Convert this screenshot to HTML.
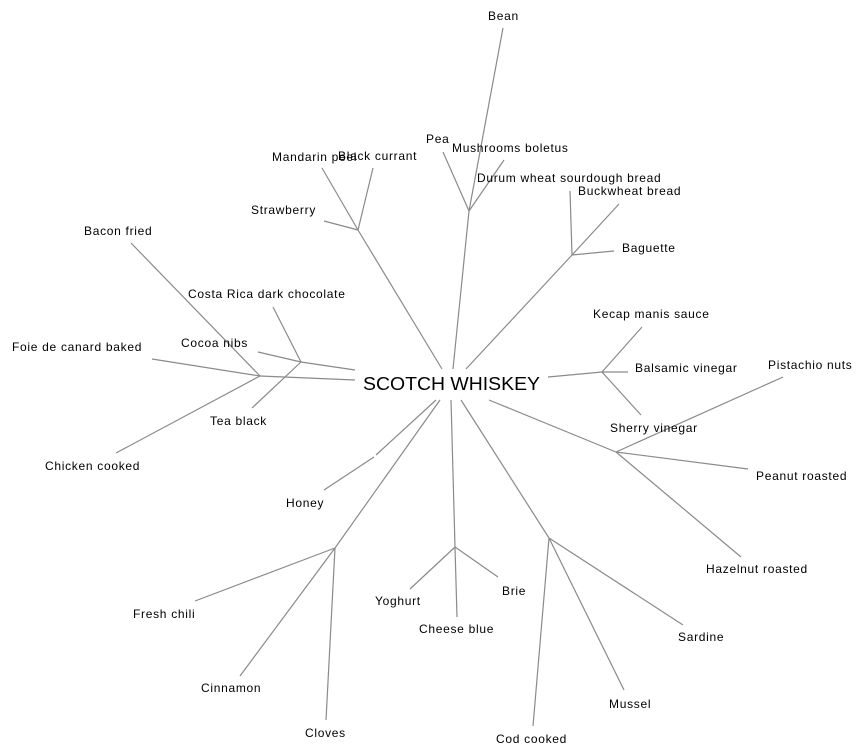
<!DOCTYPE html>
<html><head><meta charset="utf-8"><style>
html,body{margin:0;padding:0;background:#fff;}
svg{display:block;}
text{font-family:"Liberation Sans",Arial,sans-serif;font-size:12px;fill:#000;letter-spacing:0.7px;}
text.big{letter-spacing:0;}
line{stroke:#8a8a8a;stroke-width:1.2;}
</style></head><body>
<svg width="864" height="755" viewBox="0 0 864 755" xmlns="http://www.w3.org/2000/svg">
<g>
<line x1="442" y1="369" x2="358" y2="230"/>
<line x1="358" y1="230" x2="322" y2="168"/>
<line x1="358" y1="230" x2="373" y2="168"/>
<line x1="358" y1="230" x2="324" y2="221"/>
<line x1="453" y1="369" x2="469" y2="211"/>
<line x1="469" y1="211" x2="443" y2="152"/>
<line x1="469" y1="211" x2="504" y2="160"/>
<line x1="469" y1="211" x2="503" y2="28"/>
<line x1="466" y1="369" x2="572" y2="255"/>
<line x1="572" y1="255" x2="570" y2="191"/>
<line x1="572" y1="255" x2="619" y2="204"/>
<line x1="572" y1="255" x2="614" y2="251"/>
<line x1="548" y1="377" x2="602" y2="372"/>
<line x1="602" y1="372" x2="642" y2="327"/>
<line x1="602" y1="372" x2="628" y2="372"/>
<line x1="602" y1="372" x2="641" y2="415"/>
<line x1="355" y1="370" x2="301" y2="362"/>
<line x1="301" y1="362" x2="273" y2="307"/>
<line x1="301" y1="362" x2="258" y2="352"/>
<line x1="301" y1="362" x2="252" y2="408"/>
<line x1="355" y1="380" x2="260" y2="376"/>
<line x1="260" y1="376" x2="131" y2="243"/>
<line x1="260" y1="376" x2="152" y2="359"/>
<line x1="260" y1="376" x2="116" y2="453"/>
<line x1="436" y1="400" x2="376" y2="455"/>
<line x1="374" y1="457" x2="324" y2="490"/>
<line x1="440" y1="400" x2="335" y2="548"/>
<line x1="335" y1="548" x2="195" y2="601"/>
<line x1="335" y1="548" x2="240" y2="676"/>
<line x1="335" y1="548" x2="326" y2="720"/>
<line x1="451" y1="400" x2="455" y2="547"/>
<line x1="455" y1="547" x2="410" y2="589"/>
<line x1="455" y1="547" x2="457" y2="617"/>
<line x1="455" y1="547" x2="498" y2="577"/>
<line x1="461" y1="400" x2="549" y2="538"/>
<line x1="549" y1="538" x2="533" y2="726"/>
<line x1="549" y1="538" x2="624" y2="690"/>
<line x1="549" y1="538" x2="683" y2="625"/>
<line x1="489" y1="400" x2="616" y2="452"/>
<line x1="616" y1="452" x2="783" y2="377"/>
<line x1="616" y1="452" x2="748" y2="469"/>
<line x1="616" y1="452" x2="741" y2="557"/>
</g>
<text class="big" x="363" y="390" style="font-size:18px" textLength="177" lengthAdjust="spacingAndGlyphs">SCOTCH WHISKEY</text>
<text x="488" y="20">Bean</text>
<text x="426" y="143">Pea</text>
<text x="452" y="152">Mushrooms boletus</text>
<text x="272" y="161">Mandarin peel</text>
<text x="338" y="160">Black currant</text>
<text x="477" y="182">Durum wheat sourdough bread</text>
<text x="578" y="195">Buckwheat bread</text>
<text x="251" y="214">Strawberry</text>
<text x="84" y="235">Bacon fried</text>
<text x="622" y="252">Baguette</text>
<text x="188" y="298">Costa Rica dark chocolate</text>
<text x="593" y="318">Kecap manis sauce</text>
<text x="12" y="351">Foie de canard baked</text>
<text x="181" y="347">Cocoa nibs</text>
<text x="635" y="372">Balsamic vinegar</text>
<text x="768" y="369">Pistachio nuts</text>
<text x="210" y="425">Tea black</text>
<text x="610" y="432">Sherry vinegar</text>
<text x="45" y="470">Chicken cooked</text>
<text x="756" y="480">Peanut roasted</text>
<text x="286" y="507">Honey</text>
<text x="706" y="573">Hazelnut roasted</text>
<text x="502" y="595">Brie</text>
<text x="375" y="605">Yoghurt</text>
<text x="133" y="618">Fresh chili</text>
<text x="419" y="633">Cheese blue</text>
<text x="678" y="641">Sardine</text>
<text x="201" y="692">Cinnamon</text>
<text x="609" y="708">Mussel</text>
<text x="305" y="737">Cloves</text>
<text x="496" y="743">Cod cooked</text>
</svg>
</body></html>
